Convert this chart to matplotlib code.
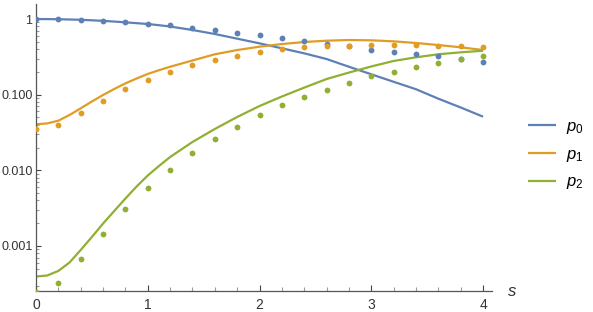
import matplotlib
matplotlib.use("Agg")
import matplotlib.pyplot as plt
from matplotlib.ticker import MultipleLocator, LogLocator, NullFormatter

plt.rcParams['font.family'] = ['Liberation Sans', 'DejaVu Sans']
plt.rcParams['mathtext.fontset'] = 'custom'
plt.rcParams['mathtext.it'] = 'Liberation Sans:italic'
plt.rcParams['mathtext.rm'] = 'Liberation Sans'

# dots, sampled every 0.2
s_pts = [0.0, 0.2, 0.4, 0.6, 0.8, 1.0, 1.2, 1.4, 1.6, 1.8, 2.0,
         2.2, 2.4, 2.6, 2.8, 3.0, 3.2, 3.4, 3.6, 3.8, 4.0]
p0_pts = [1.0, 0.99, 0.97, 0.94, 0.91, 0.87, 0.83, 0.77, 0.71, 0.66, 0.61,
          0.56, 0.51, 0.47, 0.44, 0.39, 0.37, 0.345, 0.32, 0.30, 0.27]
p1_pts = [0.035, 0.040, 0.057, 0.082, 0.118, 0.155, 0.198, 0.244, 0.287, 0.324, 0.363,
          0.398, 0.423, 0.440, 0.444, 0.457, 0.457, 0.457, 0.444, 0.44, 0.427]
p2_pts = [0.00025, 0.000327, 0.00067, 0.00144, 0.00305, 0.00584, 0.0101, 0.0168, 0.0259,
          0.0374, 0.0534, 0.0724, 0.093, 0.117, 0.142, 0.175, 0.201, 0.230, 0.260,
          0.293, 0.324]

# curves, read more finely where they bend
s_line = [0.0, 0.1, 0.2, 0.3, 0.4, 0.5, 0.6, 0.7, 0.8, 0.9, 1.0, 1.1, 1.2,
          1.4, 1.6, 1.8, 2.0, 2.2, 2.4, 2.6, 2.8, 3.0, 3.2, 3.4, 3.6, 3.8, 4.0]
p0_line = [1.0, 0.998, 0.994, 0.986, 0.976, 0.962, 0.946, 0.926, 0.904, 0.882, 0.859,
           0.829, 0.796, 0.716, 0.634, 0.550, 0.477, 0.410, 0.352, 0.296, 0.234,
           0.186, 0.148, 0.118, 0.0885, 0.0677, 0.0512]
p1_line = [0.0406, 0.0417, 0.0453, 0.0539, 0.066, 0.0813, 0.099, 0.1189, 0.141, 0.1636,
           0.188, 0.2105, 0.234, 0.283, 0.342, 0.389, 0.431, 0.467, 0.497, 0.517,
           0.528, 0.523, 0.507, 0.482, 0.453, 0.423, 0.389]
p2_line = [0.000395, 0.000407, 0.000468, 0.000605, 0.000885, 0.001315, 0.00198, 0.0029,
           0.00424, 0.00611, 0.00855, 0.0114, 0.0150, 0.0237, 0.0352, 0.0507, 0.0708,
           0.0946, 0.124, 0.161, 0.196, 0.236, 0.279, 0.312, 0.342, 0.363, 0.381]

labels = ['$p_0$', '$p_1$', '$p_2$']
colors = ['#5e81b5', '#e19c24', '#8fb032']

fig = plt.figure(figsize=(5.93, 3.12), dpi=100)
ax = fig.add_axes([36 / 593, 21 / 312, (492 - 36) / 593, (291 - 4) / 312])

for line, pts, lab, c in zip([p0_line, p1_line, p2_line], [p0_pts, p1_pts, p2_pts], labels, colors):
    ax.plot(s_line, line, color=c, lw=1.6, label=lab, zorder=2, solid_capstyle='butt')
    ax.plot(s_pts, pts, 'o', color=c, ms=4.2, mec='none', zorder=3)

ax.set_yscale('log')
ax.set_xlim(0, 4.08)
ax.set_ylim(2.54e-4, 1.58)

ax.set_yticks([1e-3, 1e-2, 1e-1, 1], labels=['0.001', '0.010', '0.100', '1'])
ax.yaxis.set_minor_locator(LogLocator(base=10, subs=[2, 3, 4, 5, 6, 7, 8, 9]))
ax.yaxis.set_minor_formatter(NullFormatter())
ax.set_xticks([0, 1, 2, 3, 4])
ax.xaxis.set_minor_locator(MultipleLocator(0.2))

for side in ['top', 'right']:
    ax.spines[side].set_visible(False)
for side in ['left', 'bottom']:
    ax.spines[side].set_color('#555555')
    ax.spines[side].set_linewidth(0.9)

ax.tick_params(which='major', direction='in', colors='#444444', labelcolor='#333333',
               labelsize=9, width=0.8)
ax.tick_params(axis='x', which='major', length=4.3, pad=5, labelsize=10)
ax.tick_params(axis='y', which='major', length=3.8, pad=2.5)
ax.tick_params(which='minor', direction='in', colors='#999999', width=0.8)
ax.tick_params(axis='x', which='minor', length=2.6)
ax.tick_params(axis='y', which='minor', length=2.2)

ax.annotate('$s$', xy=(1, 0), xycoords='axes fraction', xytext=(11, 0),
            textcoords='offset points', fontsize=12, color='#333333',
            ha='left', va='center')

fig.legend(loc='center left', bbox_to_anchor=(528 / 593, 1 - 155 / 312),
           bbox_transform=fig.transFigure, frameon=False, fontsize=12,
           handlelength=1.7, handletextpad=0.6, labelspacing=0.65,
           borderpad=0, borderaxespad=0)

fig.savefig('out.png', dpi=100)
